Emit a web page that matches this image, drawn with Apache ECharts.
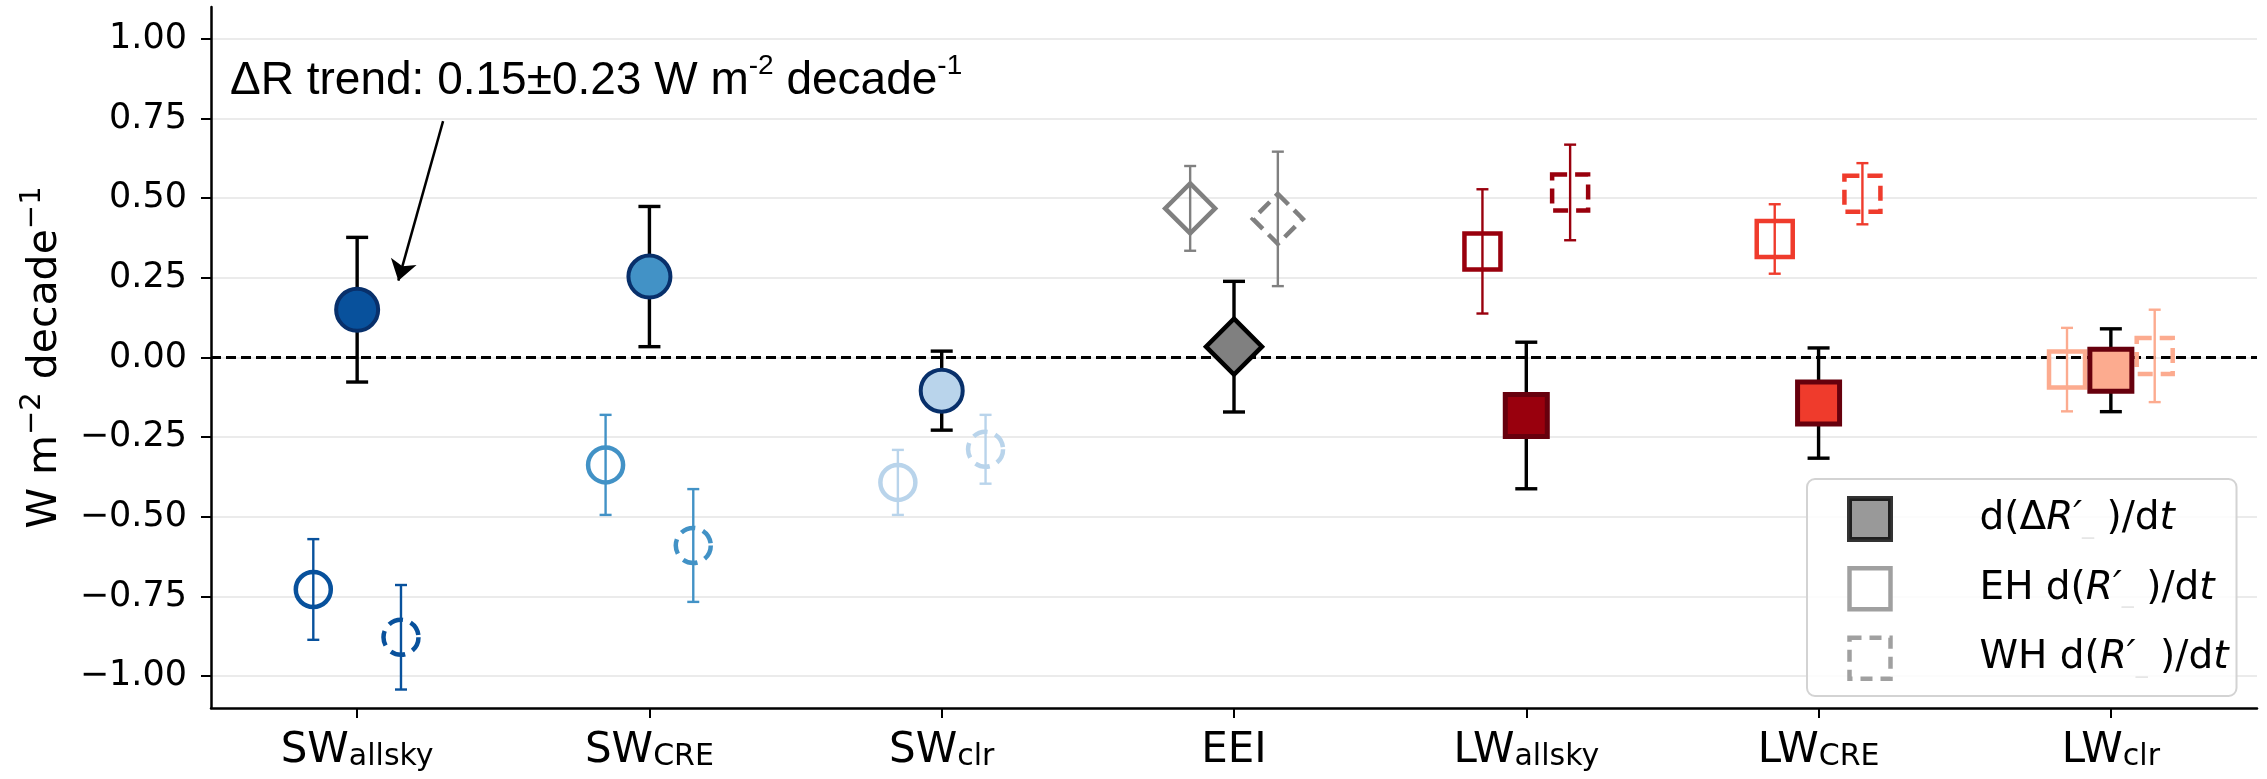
<!DOCTYPE html>
<html><head><meta charset="utf-8">
<script src="https://cdn.jsdelivr.net/npm/echarts@6/dist/echarts.min.js"></script>
<style>html,body{margin:0;padding:0;background:#fff}#c{width:2267px;height:779px}</style>
</head><body><div id="c"></div>
<script>
// ---------------- data ----------------
const catBase = ['SW', 'SW', 'SW', 'EEI', 'LW', 'LW', 'LW'];
const catSub  = ['allsky', 'CRE', 'clr', '', 'allsky', 'CRE', 'clr'];
const yTicks  = [-1.00, -0.75, -0.50, -0.25, 0.00, 0.25, 0.50, 0.75, 1.00];

const mainVal = [0.150, 0.254, -0.104, 0.034, -0.182, -0.143, -0.040];
const mainErr = [0.227, 0.220, 0.124, 0.205, 0.230, 0.173, 0.130];
const ehVal   = [-0.728, -0.337, -0.392, 0.468, 0.333, 0.372, -0.038];
const ehErr   = [0.158, 0.157, 0.102, 0.133, 0.195, 0.109, 0.131];
const whVal   = [-0.878, -0.590, -0.288, 0.435, 0.518, 0.514, 0.005];
const whErr   = [0.164, 0.177, 0.108, 0.211, 0.150, 0.096, 0.145];

const legendNames  = ['d(ΔR′_)/dt', 'EH d(R′_)/dt', 'WH d(R′_)/dt'];
const legendPrefix = ['d(Δ', 'EH d(', 'WH d('];
const yName = ['W m', '−2', ' decade', '−1'];
const annotParts = ['ΔR trend: 0.15±0.23 W m', '-2', ' decade', '-1'];

// ---------------- styles / layout ----------------
const catColor = ['#08519c', '#4292c6', '#b9d4eb', '#808080', '#99000d', '#ef3b2c', '#fcab8f'];
const mainEdge = ['#08306b', '#08306b', '#08306b', '#000000', '#67000d', '#67000d', '#67000d'];
const shape    = ['circle', 'circle', 'circle', 'diamond', 'rect', 'rect', 'rect'];
const mainSize = {circle: 42, diamond: 56, rect: 42};
const mainBW   = {circle: 4, diamond: 4.5, rect: 5};
const openSize = {circle: 35, diamond: 50, rect: 36};
const OFF = {eh: -0.15, main: 0, wh: 0.15};
const annotPos = {x: -0.435, y: 0.877};
const arrowPos = {x0: 0.294, y0: 0.742, x1: 0.141, y1: 0.241};
const FONT = 'DejaVu Sans';

const fmt = v => (v < 0 ? '−' : '') + Math.abs(v).toFixed(2);

function errSeries(vals, errs, off, colorFn, lw, cap, z) {
  return {
    type: 'custom', xAxisIndex: 1, yAxisIndex: 0, z: z, silent: true,
    data: vals.map((v, i) => [i + off, v, errs[i]]),
    renderItem(params, api) {
      const x = api.value(0), y = api.value(1), e = api.value(2);
      const t = api.coord([x, y + e]), b = api.coord([x, y - e]);
      const st = {stroke: colorFn(params.dataIndex), lineWidth: lw, fill: null};
      return {type: 'group', children: [
        {type: 'line', shape: {x1: t[0], y1: t[1], x2: b[0], y2: b[1]}, style: st},
        {type: 'line', shape: {x1: t[0] - cap, y1: t[1], x2: t[0] + cap, y2: t[1]}, style: st},
        {type: 'line', shape: {x1: b[0] - cap, y1: b[1], x2: b[0] + cap, y2: b[1]}, style: st}
      ]};
    }
  };
}

function markerSeries(name, vals, off, kind, z) {
  return {
    type: 'scatter', name: name, xAxisIndex: 1, yAxisIndex: 0, z: z, silent: true,
    data: vals.map((v, i) => {
      const s = shape[i];
      let itemStyle, size;
      if (kind === 'main') {
        size = mainSize[s];
        itemStyle = {color: catColor[i], borderColor: mainEdge[i], borderWidth: mainBW[s], opacity: 1};
      } else {
        size = openSize[s];
        itemStyle = {color: 'rgba(0,0,0,0)', borderColor: catColor[i], borderWidth: 4.5, opacity: 1};
        if (kind === 'wh') itemStyle.borderType = [15, 8];
      }
      return {value: [i + off, v], symbol: s, symbolSize: size, itemStyle: itemStyle};
    })
  };
}

const chart = echarts.init(document.getElementById('c'), null, {renderer: 'canvas'});
const option = {
  animation: false,
  backgroundColor: '#fff',
  grid: {left: 211, right: 10, top: 7, bottom: 71, containLabel: false},
  xAxis: [
    {
      type: 'category', data: catBase.map((b, i) => b + (catSub[i] ? '_' + catSub[i] : '')),
      boundaryGap: true, position: 'bottom',
      axisLine: {show: true, onZero: false, lineStyle: {color: '#000', width: 2.5}},
      axisTick: {show: true, alignWithLabel: true, length: 10, lineStyle: {color: '#000', width: 2}},
      splitLine: {show: false},
      axisLabel: {
        margin: 16, interval: 0,
        formatter: (v, i) => catSub[i] ? `{m|${catBase[i]}}{s|${catSub[i]}}` : `{m|${catBase[i]}}`,
        rich: {
          m: {fontFamily: FONT, fontSize: 42, color: '#000', lineHeight: 48, verticalAlign: 'bottom'},
          s: {fontFamily: FONT, fontSize: 30, color: '#000', lineHeight: 30, verticalAlign: 'bottom'}
        }
      }
    },
    {type: 'value', min: -0.5, max: 6.5, show: false, axisLine: {onZero: false}}
  ],
  yAxis: {
    type: 'value', min: -1.1, max: 1.1,
    splitLine: {show: false},
    axisLine: {show: true, onZero: false, lineStyle: {color: '#000', width: 2.5}},
    axisTick: {show: true, customValues: yTicks, length: 10, lineStyle: {color: '#000', width: 2}},
    axisLabel: {customValues: yTicks, formatter: fmt, fontFamily: FONT, fontSize: 35, color: '#000', margin: 24},
    name: `{a|${yName[0]}}{s|${yName[1]}}{a|${yName[2]}}{s|${yName[3]}}`,
    nameLocation: 'middle', nameRotate: 90, nameGap: 145,
    nameTextStyle: {
      rich: {
        a: {fontFamily: FONT, fontSize: 41, color: '#000', lineHeight: 48, verticalAlign: 'bottom'},
        s: {fontFamily: FONT, fontSize: 29, color: '#000', lineHeight: 48, verticalAlign: 'top'}
      }
    }
  },
  legend: {
    orient: 'vertical', left: 1807, top: 479,
    padding: [17, 8, 15, 40], itemWidth: 41, itemHeight: 41, itemGap: 24,
    backgroundColor: 'rgba(255,255,255,0.85)', borderColor: '#d3d3d3', borderWidth: 2, borderRadius: 8,
    selectedMode: false,
    data: [
      {name: legendNames[0], icon: 'rect', itemStyle: {color: '#808080', borderColor: '#000', borderWidth: 5}},
      {name: legendNames[1], icon: 'rect', itemStyle: {color: '#fff', borderColor: '#888', borderWidth: 4.5}},
      {name: legendNames[2], icon: 'rect', itemStyle: {color: '#fff', borderColor: '#888', borderWidth: 4.5, borderType: [12, 8]}}
    ],
    formatter: name => {
      const k = legendNames.indexOf(name);
      return `{sp|}{n|${legendPrefix[k]}}{i|R′}{g|_}{n| )/d}{i|t}`;
    },
    textStyle: {
      rich: {
        sp: {width: 84},
        n: {fontFamily: FONT, fontSize: 39, color: '#000'},
        i: {fontFamily: FONT, fontSize: 39, fontStyle: 'italic', color: '#000'},
        g: {fontFamily: FONT, fontSize: 24, color: '#e6e6e6', verticalAlign: 'bottom'}
      }
    }
  },
  series: [
    { // horizontal grid lines
      type: 'scatter', xAxisIndex: 1, yAxisIndex: 0, data: [], silent: true, z: 0,
      markLine: {
        silent: true, z: 0, symbol: ['none', 'none'], label: {show: false},
        lineStyle: {color: '#ebebeb', width: 2, type: 'solid'},
        data: yTicks.map(v => ({yAxis: v}))
      }
    },
    { // zero reference line
      type: 'scatter', xAxisIndex: 1, yAxisIndex: 0, data: [], silent: true, z: 1,
      markLine: {
        silent: true, z: 1, symbol: ['none', 'none'], label: {show: false},
        lineStyle: {color: '#000', width: 2.8, type: [10, 5]},
        data: [{yAxis: 0}]
      }
    },
    errSeries(ehVal, ehErr, OFF.eh, i => catColor[i], 2.4, 6, 2),
    errSeries(whVal, whErr, OFF.wh, i => catColor[i], 2.4, 6, 2),
    markerSeries(legendNames[1], ehVal, OFF.eh, 'eh', 3),
    markerSeries(legendNames[2], whVal, OFF.wh, 'wh', 3),
    errSeries(mainVal, mainErr, OFF.main, () => '#000', 3.4, 11, 4),
    markerSeries(legendNames[0], mainVal, OFF.main, 'main', 5),
    { // annotation
      type: 'scatter', xAxisIndex: 1, yAxisIndex: 0, data: [], silent: true, z: 6,
      markPoint: {
        silent: true, z: 6, symbol: 'circle', symbolSize: 0,
        data: [{coord: [annotPos.x, annotPos.y]}],
        label: {
          show: true, position: 'right', distance: 0,
          formatter: `{a|${annotParts[0]}}{s|${annotParts[1]}}{a|${annotParts[2]}}{s|${annotParts[3]}}`,
          rich: {
            a: {fontFamily: 'Liberation Sans', fontSize: 46, color: '#000', lineHeight: 52, verticalAlign: 'bottom'},
            s: {fontFamily: 'Liberation Sans', fontSize: 28, color: '#000', lineHeight: 52, verticalAlign: 'top'}
          }
        }
      },
      markLine: {
        silent: true, z: 6, symbol: ['none', 'arrow'], symbolSize: 20, label: {show: false},
        lineStyle: {color: '#000', width: 2.5, type: 'solid'},
        data: [[{coord: [arrowPos.x0, arrowPos.y0]}, {coord: [arrowPos.x1, arrowPos.y1]}]]
      }
    }
  ]
};
chart.setOption(option);
</script>
</body></html>
